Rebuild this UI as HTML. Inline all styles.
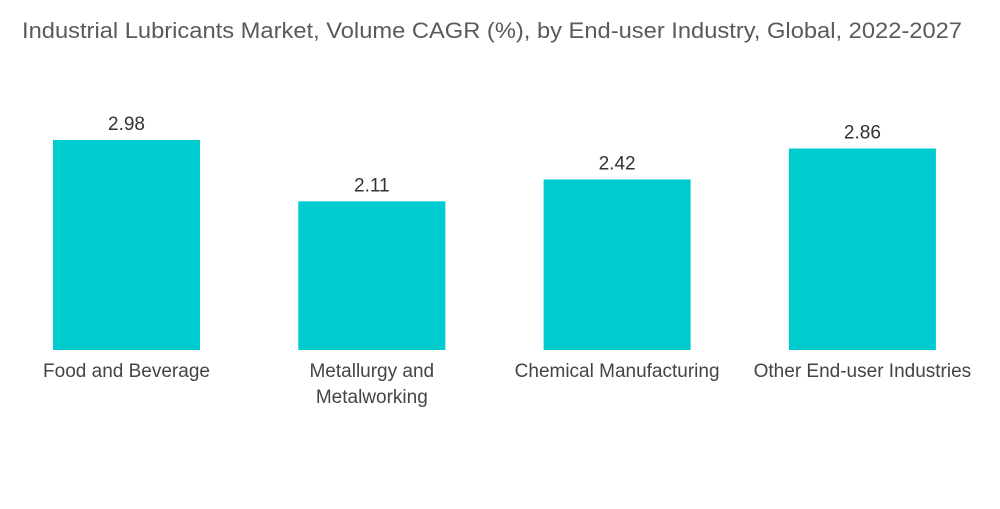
<!DOCTYPE html>
<html>
<head>
<meta charset="utf-8">
<style>
  html,body{margin:0;padding:0;background:#fff;}
  body{width:1000px;height:504px;overflow:hidden;font-family:"Liberation Sans",sans-serif;}
  svg text{font-family:"Liberation Sans",sans-serif;}
</style>
</head>
<body>
<svg id="chart" width="1000" height="504">
  <text x="22" y="38" font-size="22" textLength="940" lengthAdjust="spacingAndGlyphs" fill="#5a5a5a">Industrial Lubricants Market, Volume CAGR (%), by End-user Industry, Global, 2022-2027</text>
  <g id="bars"></g>
  <g id="values"></g>
  <g id="cats"></g>
</svg>
<script>
const categories = [["Food and Beverage"], ["Metallurgy and", "Metalworking"], ["Chemical Manufacturing"], ["Other End-user Industries"]];
const values = [2.98, 2.11, 2.42, 2.86];
const valueLabels = ["2.98", "2.11", "2.42", "2.86"];

const baseY = 350, pxPerUnit = 70.47;
const firstCenter = 126.5, step = 245.3, barW = 147;
const yScale = v => baseY - v * pxPerUnit;
const xCenter = i => firstCenter + i * step;
const NS = "http://www.w3.org/2000/svg";
const gb = document.getElementById("bars"), gv = document.getElementById("values"), gc = document.getElementById("cats");
values.forEach((v, i) => {
  const r = document.createElementNS(NS, "rect");
  r.setAttribute("x", xCenter(i) - barW / 2);
  r.setAttribute("y", yScale(v));
  r.setAttribute("width", barW);
  r.setAttribute("height", baseY - yScale(v));
  r.setAttribute("fill", "#00CCCF");
  
  
  gb.appendChild(r);
  const t = document.createElementNS(NS, "text");
  t.setAttribute("x", xCenter(i));
  t.setAttribute("y", yScale(v) - 10);
  t.setAttribute("text-anchor", "middle");
  t.setAttribute("font-size", "19");
  t.setAttribute("fill", "#333");
  t.textContent = valueLabels[i];
  
  
  gv.appendChild(t);
  categories[i].forEach((line, j) => {
    const c = document.createElementNS(NS, "text");
    c.setAttribute("x", xCenter(i));
    c.setAttribute("y", 377 + j * 26);
    c.setAttribute("text-anchor", "middle");
    c.setAttribute("font-size", "19");
    c.setAttribute("fill", "#444");
    c.textContent = line;
    
    
    gc.appendChild(c);
  });
});
</script>
</body>
</html>
